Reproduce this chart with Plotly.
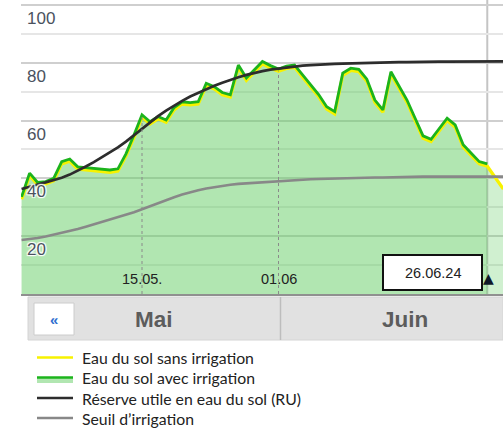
import pandas as pd
import plotly.graph_objects as go

# ---------------- data ----------------
dates = pd.date_range("2024-04-30", "2024-06-29", freq="D")

# Eau du sol avec irrigation (observed, up to 27.06)
avec_irrigation = [33.6, 41.8, 38.6, 38.9, 40.0, 45.8, 46.7, 44.0, 43.7, 43.5,
                   43.2, 42.9, 43.3, 48.5, 55.0, 62.0, 59.6, 61.4, 60.2, 64.5,
                   66.5, 66.2, 66.5, 72.9, 71.7, 69.7, 68.9, 79.2, 74.7, 77.5,
                   80.4, 79.0, 77.8, 78.8, 79.2, 75.8, 72.5, 69.0, 64.8, 63.1,
                   76.4, 78.1, 77.7, 74.3, 67.1, 63.7, 76.9, 72.2, 67.1, 60.9,
                   54.7, 53.5, 57.2, 60.8, 58.5, 51.6, 48.7, 45.8, 45.0]

# Eau du sol sans irrigation
sans_irrigation = [32.8, 41.0, 37.8, 38.1, 39.2, 45.0, 45.9, 43.2, 42.9, 42.7,
                   42.4, 42.1, 42.5, 47.7, 54.2, 61.2, 58.8, 60.6, 59.4, 63.7,
                   65.7, 65.4, 65.7, 72.1, 70.9, 68.9, 68.1, 78.4, 73.9, 76.7,
                   79.6, 78.2, 77.0, 78.0, 78.4, 75.0, 71.7, 68.2, 64.0, 62.3,
                   75.6, 77.3, 76.9, 73.5, 66.3, 62.9, 76.1, 71.4, 66.3, 60.1,
                   53.9, 52.7, 56.4, 60.0, 57.7, 50.8, 47.9, 45.0, 44.2, 40.2,
                   36.3]

# Réserve utile en eau du sol (RU)
reserve_utile = [36.3, 37.2, 37.9, 38.6, 39.4, 40.2, 41.3, 42.6, 44.1, 45.6,
                 47.2, 48.9, 50.7, 52.7, 54.9, 57.2, 59.4, 61.5, 63.4, 65.2,
                 66.8, 68.3, 69.6, 70.8, 72.0, 73.1, 74.1, 75.0, 75.8, 76.5,
                 77.1, 77.6, 78.0, 78.4, 78.7, 79.0, 79.2, 79.4, 79.5, 79.6,
                 79.7, 79.8, 79.9, 80.0, 80.0, 80.1, 80.1, 80.2, 80.2, 80.3,
                 80.3, 80.3, 80.4, 80.4, 80.4, 80.4, 80.5, 80.5, 80.5, 80.5,
                 80.5]

# Seuil d'irrigation
seuil = [18.7, 19.0, 19.4, 19.9, 20.5, 21.1, 21.8, 22.5, 23.3, 24.1,
         25.0, 25.9, 26.6, 27.4, 28.3, 29.3, 30.4, 31.5, 32.5, 33.5,
         34.4, 35.2, 35.9, 36.5, 37.0, 37.4, 37.8, 38.1, 38.3, 38.5,
         38.7, 38.9, 39.1, 39.3, 39.4, 39.6, 39.7, 39.8, 39.9, 40.0,
         40.0, 40.1, 40.2, 40.2, 40.3, 40.3, 40.4, 40.4, 40.5, 40.5,
         40.6, 40.6, 40.6, 40.6, 40.6, 40.6, 40.6, 40.6, 40.6, 40.6,
         40.6]

y_tick_values = [100, 80, 60, 40, 20]
x_tick_dates = ["2024-05-15", "2024-06-01"]
x_tick_text = ["15.05.", "01.06"]
today = "2024-06-27"
today_label = "26.06.24"
months = ["Mai", "Juin"]
legend_labels = ["Eau du sol sans irrigation", "Eau du sol avec irrigation",
                 "Réserve utile en eau du sol (RU)", "Seuil d’irrigation"]

# ---------------- figure ----------------
W, H = 503, 429
ML, MR, MT, MB = 21, 0, 0, 135
PW, PH = W - ML - MR, H - MT - MB


def px(x):
    return (x - ML) / PW


def py(y):
    return (H - MB - y) / PH


n_obs = len(avec_irrigation)
obs_dates = dates[:n_obs]
fc_dates = dates[n_obs - 1:]
fc_vals = sans_irrigation[n_obs - 1:]

GREEN = "#1cb41c"
YELLOW = "#f7f200"
BLACK = "#2d2d2d"
GREY = "#888888"

fig = go.Figure()
# forecast fill (lighter)
fig.add_trace(go.Scatter(x=fc_dates, y=fc_vals, mode="lines", line=dict(width=0),
                         fill="tozeroy", fillcolor="rgba(100,205,100,0.30)",
                         hoverinfo="skip", showlegend=False))
# observed fill
fig.add_trace(go.Scatter(x=obs_dates, y=avec_irrigation, mode="lines", line=dict(width=0),
                         fill="tozeroy", fillcolor="rgba(100,205,100,0.50)",
                         hoverinfo="skip", showlegend=False))
fig.add_trace(go.Scatter(x=dates, y=sans_irrigation, mode="lines",
                         line=dict(color=YELLOW, width=3.2), name=legend_labels[0],
                         showlegend=False))
fig.add_trace(go.Scatter(x=obs_dates, y=avec_irrigation, mode="lines",
                         line=dict(color=GREEN, width=2.8), name=legend_labels[1],
                         showlegend=False))
fig.add_trace(go.Scatter(x=dates, y=seuil, mode="lines",
                         line=dict(color=GREY, width=2.6), name=legend_labels[3],
                         showlegend=False))
fig.add_trace(go.Scatter(x=dates, y=reserve_utile, mode="lines",
                         line=dict(color=BLACK, width=2.7), name=legend_labels[2],
                         showlegend=False))

shapes = []
annotations = []

# today vertical line
shapes.append(dict(type="line", xref="x", yref="paper", x0=today, x1=today, y0=0, y1=1,
                   line=dict(color="#c4c4c4", width=2), layer="below"))

# dotted drop lines at the tick dates (up to the curve)
date_list = list(dates.strftime("%Y-%m-%d"))
for d in x_tick_dates:
    i = date_list.index(d)
    shapes.append(dict(type="line", xref="x", yref="y", x0=d, x1=d, y0=0,
                       y1=sans_irrigation[i], line=dict(color="#8a8a8a", width=1, dash="dot"),
                       layer="above"))

# y labels inside plot, just under gridlines
for v in y_tick_values:
    annotations.append(dict(x=0, xref="paper", y=v, yref="y", text=str(v), showarrow=False,
                            xanchor="left", yanchor="top", xshift=4, yshift=-2,
                            font=dict(family="Liberation Sans", size=17, color="#4a525e",
                                      shadow="1px 1px 1px #fff, -1px -1px 1px #fff, 1px -1px 1px #fff, -1px 1px 1px #fff")))

# x tick labels inside plot
for d, t in zip(x_tick_dates, x_tick_text):
    annotations.append(dict(x=d, xref="x", y=0, yref="y", text=t, showarrow=False,
                            xanchor="center", yanchor="bottom", yshift=5,
                            font=dict(family="Liberation Sans", size=14.5, color="#222")))

# today box
shapes.append(dict(type="rect", xref="paper", yref="paper", x0=px(383), x1=px(482),
                   y0=py(290), y1=py(255), fillcolor="white",
                   line=dict(color="#111", width=2), layer="above"))
annotations.append(dict(x=px(432.5), xref="paper", y=py(273), yref="paper", text=today_label,
                        showarrow=False, xanchor="center", yanchor="middle",
                        font=dict(family="Liberation Sans", size=14.5, color="#222")))
annotations.append(dict(x=today, xref="x", y=py(278), yref="paper", text="▲",
                        showarrow=False, xanchor="center", yanchor="middle", xshift=1,
                        font=dict(family="DejaVu Sans", size=14, color="#101828")))

# month bar
shapes.append(dict(type="rect", xref="paper", yref="paper", x0=px(28), x1=px(503),
                   y0=py(340), y1=py(297), fillcolor="#e1e1e1",
                   line=dict(color="#d4d4d4", width=1)))
shapes.append(dict(type="line", xref="paper", yref="paper", x0=px(280.5), x1=px(280.5),
                   y0=py(340), y1=py(297), line=dict(color="#bdbdbd", width=1.5)))
shapes.append(dict(type="rect", xref="paper", yref="paper", x0=px(34), x1=px(74),
                   y0=py(335), y1=py(303), fillcolor="white",
                   line=dict(color="#cccccc", width=1)))
annotations.append(dict(x=px(54), xref="paper", y=py(319.5), yref="paper", text="«",
                        showarrow=False, xanchor="center", yanchor="middle",
                        font=dict(family="Liberation Sans", size=15, color="#2f6fd0",
                                  weight="bold")))
for m, cx in zip(months, [154, 405]):
    annotations.append(dict(x=px(cx), xref="paper", y=py(319), yref="paper", text=m,
                            showarrow=False, xanchor="center", yanchor="middle",
                            font=dict(family="Liberation Sans", size=22.5, color="#5c5c5c",
                                      weight="bold")))

# legend
leg_y = [357.5, 377.5, 398, 418]
leg_colors = [YELLOW, GREEN, BLACK, GREY]
for lab, yy, c in zip(legend_labels, leg_y, leg_colors):
    if c == GREEN:
        shapes.append(dict(type="rect", xref="paper", yref="paper", x0=px(37), x1=px(73),
                           y0=py(383), y1=py(yy), fillcolor="rgba(100,205,100,0.5)",
                           line=dict(width=0)))
    shapes.append(dict(type="line", xref="paper", yref="paper", x0=px(37), x1=px(73),
                       y0=py(yy), y1=py(yy), line=dict(color=c, width=2.5)))
    annotations.append(dict(x=px(80), xref="paper", y=py(yy), yref="paper", text=lab,
                            showarrow=False, xanchor="left", yanchor="middle",
                            font=dict(family="Lato", size=15.8, color="#222")))

fig.update_layout(
    width=W, height=H,
    margin=dict(l=ML, r=MR, t=MT, b=MB, pad=0),
    paper_bgcolor="white", plot_bgcolor="white",
    showlegend=False,
    shapes=shapes, annotations=annotations,
    xaxis=dict(type="date", range=["2024-04-29 22:20", "2024-06-28 23:00"],
               showgrid=False, zeroline=False, showticklabels=False, ticks="",
               showline=True, linecolor="#909090", linewidth=2, fixedrange=True),
    yaxis=dict(range=[0, 101.7], dtick=20, tick0=0, showticklabels=False, ticks="",
               showgrid=True, gridcolor="#cfcfcf", gridwidth=2, zeroline=False,
               minor=dict(dtick=10, showgrid=True, gridcolor="#e6e6e6", gridwidth=1.5),
               showline=False, fixedrange=True),
)

fig.write_html("out.html", config={"displayModeBar": False},
               post_script="document.body.style.margin='0';document.body.style.overflow='hidden';")
